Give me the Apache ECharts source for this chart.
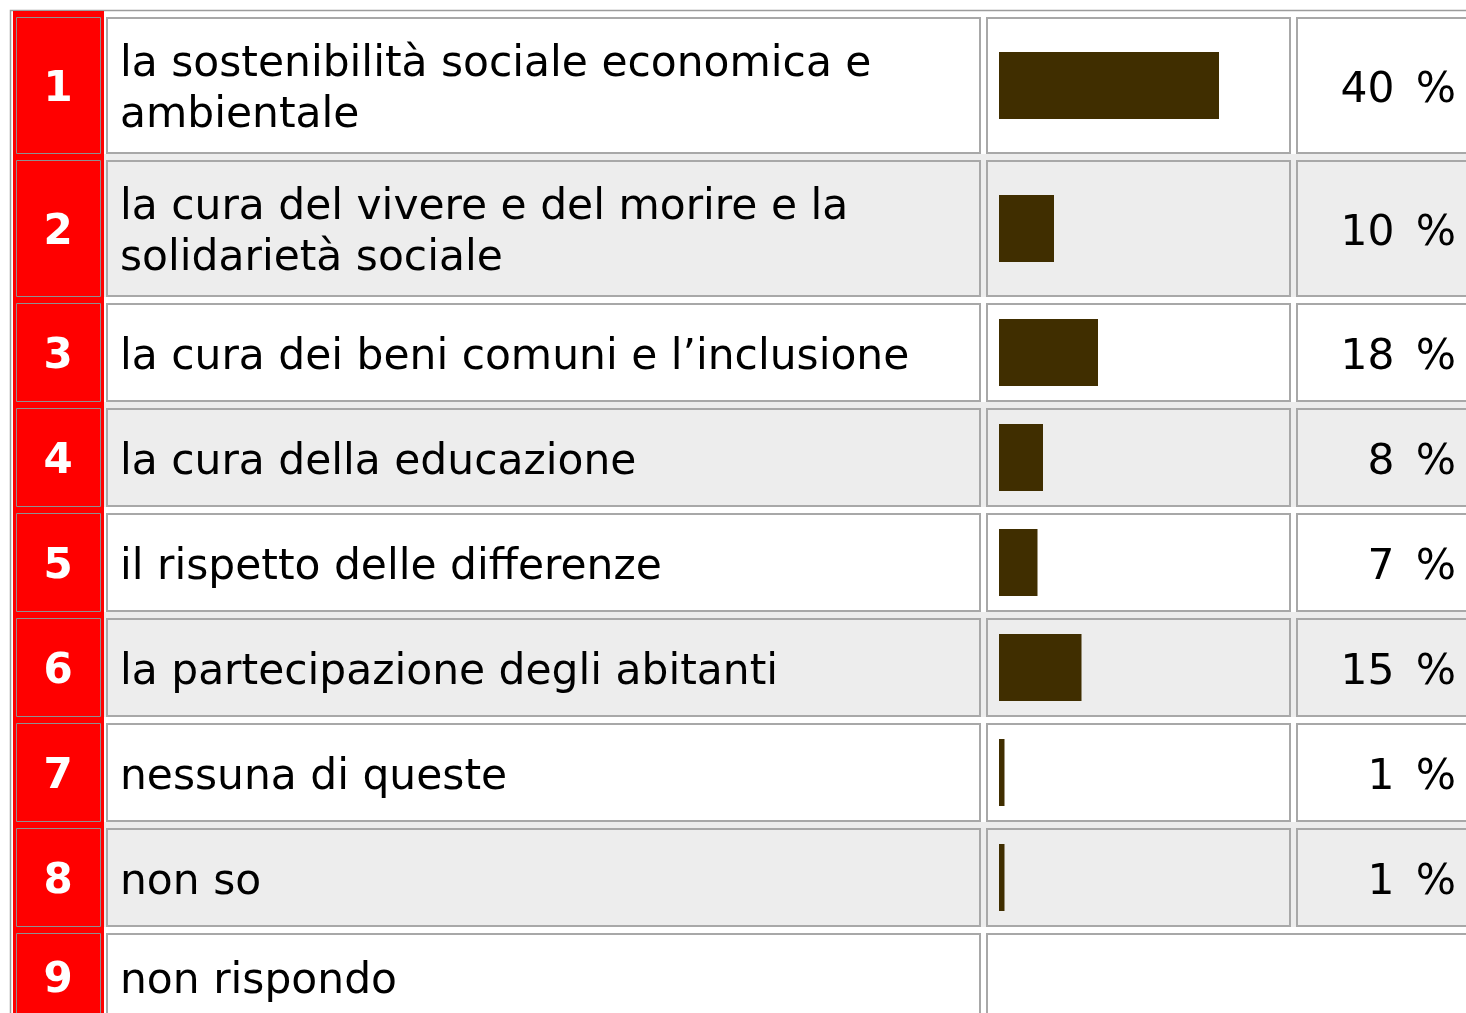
<!DOCTYPE html>
<html>
<head>
<meta charset="utf-8">
<script src="https://cdn.jsdelivr.net/npm/echarts@6/dist/echarts.min.js"></script>
<style>
  html, body { margin: 0; background: #fff; }
  #chart { width: 1466px; height: 1013px; }
</style>
</head>
<body>
<div id="chart"></div>
<script>
const ranks = ['1', '2', '3', '4', '5', '6', '7', '8', '9']
const labels = [
  'la sostenibilità sociale economica e\nambientale',
  'la cura del vivere e del morire e la\nsolidarietà sociale',
  'la cura dei beni comuni e l’inclusione',
  'la cura della educazione',
  'il rispetto delle differenze',
  'la partecipazione degli abitanti',
  'nessuna di queste',
  'non so',
  'non rispondo'
]
const values = [40, 10, 18, 8, 7, 15, 1, 1, null]

// row layout: two-line labels make taller rows, a row without bar is shorter
const GAP = 6
const pitches = labels.map((l, i) => (l.includes('\n') ? 143 : values[i] == null ? 93 : 105))
const tops = []
let total = 0
pitches.forEach(p => { tops.push(total); total += p })

const FONT = '"DejaVu Sans", Verdana, sans-serif'
const BORDER = '#a8a8a8'
const GREY = '#ededed'
const BAR = '#402e00'
const TXT_DY = 5

function renderRow(params, api) {
  const i = params.dataIndex
  const v = values[i]
  const [x0, y0] = api.coord([0, tops[i]])
  const y1 = api.coord([0, tops[i] + pitches[i] - GAP])[1]
  const h = y1 - y0
  const cy = (y0 + y1) / 2
  const shade = i % 2 ? GREY : '#fff'
  const cell = (x, w) => ({
    type: 'rect',
    shape: { x: x + 1, y: y0 + 1, width: w - 2, height: h - 2 },
    style: { fill: shade, stroke: BORDER, lineWidth: 2 }
  })
  const kids = []
  if (i % 2) {
    kids.push({ type: 'rect', shape: { x: 104, y: y0 - GAP, width: 1400, height: h + GAP }, style: { fill: GREY } })
  }
  kids.push({ type: 'rect', shape: { x: 13, y: y0 - GAP, width: 91, height: h + GAP + 40 }, style: { fill: '#ff0000' } })
  kids.push({
    type: 'rect',
    shape: { x: 16.5, y: y0 + 0.5, width: 84, height: h - 1 },
    style: { fill: 'none', stroke: '#909090', lineWidth: 1 }
  })
  kids.push(cell(106, 875))
  if (v == null) {
    kids.push(cell(986, 500))
  } else {
    kids.push(cell(986, 305))
    kids.push(cell(1296, 200))
    const xv = api.coord([v, tops[i]])[0]
    kids.push({
      type: 'rect',
      shape: { x: x0, y: cy - 33.5, width: xv - x0, height: 67 },
      style: { fill: BAR }
    })
    kids.push({
      type: 'text',
      style: { text: v + '\u2002%', x: 1456, y: cy + TXT_DY, font: '42.4px ' + FONT, fill: '#000', align: 'right', verticalAlign: 'middle' }
    })
  }
  kids.push({
    type: 'text',
    style: { text: ranks[i], x: 58, y: cy + TXT_DY, font: 'bold 42px ' + FONT, fill: '#fff', align: 'center', verticalAlign: 'middle' }
  })
  kids.push({
    type: 'text',
    style: { text: labels[i], x: 120, y: cy + TXT_DY, font: '42.4px ' + FONT, lineHeight: 51, fill: '#000', align: 'left', verticalAlign: 'middle' }
  })
  return { type: 'group', children: kids }
}

const chart = echarts.init(document.getElementById('chart'))
chart.setOption({
  animation: false,
  backgroundColor: '#fff',
  graphic: [{
    type: 'rect',
    z: -10,
    shape: { x: 10.5, y: 10.5, width: 1500, height: 1100 },
    style: { fill: 'none', stroke: '#9c9c9c', lineWidth: 1.5 }
  }],
  grid: { left: 999, width: 220, top: 17, height: total, outerBoundsMode: 'none' },
  xAxis: { type: 'value', min: 0, max: 40, show: false },
  yAxis: { type: 'value', min: 0, max: total, inverse: true, show: false },
  series: [{
    type: 'custom',
    renderItem: renderRow,
    encode: { x: 0, y: 1 },
    data: values.map((v, i) => [v == null ? 0 : v, tops[i]])
  }]
})
</script>
</body>
</html>
